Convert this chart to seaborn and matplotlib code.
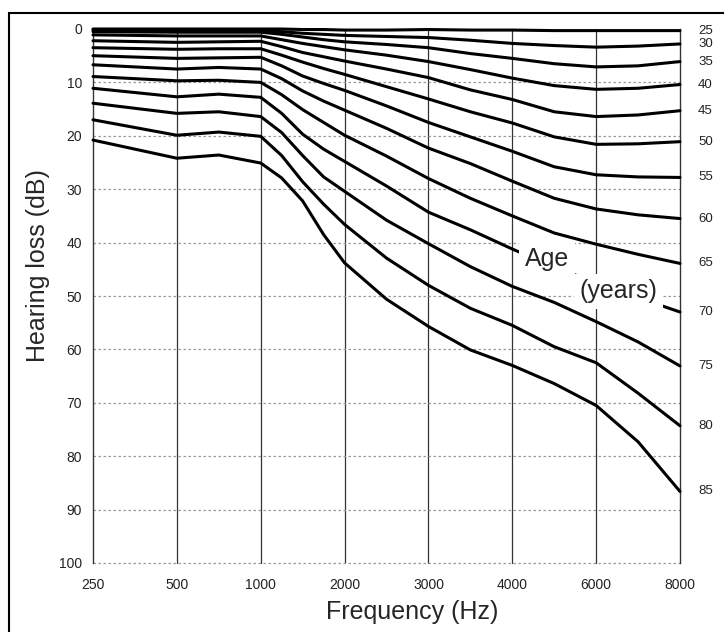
import pandas as pd
import seaborn as sns
import matplotlib.pyplot as plt
from matplotlib.patches import Rectangle

# audiogram frequencies, drawn at equal spacing
freq_labels = ["250", "500", "1000", "2000", "3000", "4000", "6000", "8000"]
freq_pos = list(range(len(freq_labels)))

# positions where the curves were read (fractions = between two frequencies)
read_pos = [0, 1, 1.5, 2, 2.25, 2.5, 2.75, 3, 3.5, 4, 4.5, 5, 5.5, 6, 6.5, 7]

ages = [25, 30, 35, 40, 45, 50, 55, 60, 65, 70, 75, 80, 85]

# hearing loss (dB) per age at read_pos
loss_db = [
    [0.0, 0.0, 0.0, 0.0, 0.0, 0.1, 0.1, 0.2, 0.2, 0.1, 0.2, 0.2, 0.3, 0.3, 0.3, 0.3],
    [0.2, 0.3, 0.3, 0.3, 0.5, 0.8, 1.0, 1.2, 1.4, 1.6, 2.1, 2.7, 3.1, 3.4, 3.2, 2.8],
    [0.5, 0.6, 0.6, 0.6, 1.0, 1.5, 2.0, 2.4, 2.9, 3.5, 4.6, 5.5, 6.5, 7.1, 6.9, 6.1],
    [1.1, 1.3, 1.3, 1.3, 2.0, 2.7, 3.3, 3.9, 4.9, 6.1, 7.6, 9.2, 10.6, 11.3, 11.1, 10.4],
    [2.2, 2.5, 2.4, 2.3, 3.3, 4.4, 5.2, 6.0, 7.5, 9.1, 11.4, 13.2, 15.5, 16.4, 16.1, 15.3],
    [3.5, 3.8, 3.7, 3.7, 4.9, 6.2, 7.4, 8.5, 10.8, 13.1, 15.5, 17.6, 20.2, 21.6, 21.5, 21.1],
    [5.0, 5.5, 5.4, 5.3, 6.9, 8.8, 10.2, 11.5, 14.4, 17.5, 20.2, 22.9, 25.8, 27.3, 27.7, 27.8],
    [6.7, 7.5, 7.2, 7.5, 9.3, 11.6, 13.5, 15.2, 18.6, 22.3, 25.2, 28.5, 31.7, 33.7, 34.8, 35.5],
    [8.9, 9.7, 9.6, 10.0, 12.3, 15.1, 17.5, 19.9, 23.8, 28.0, 31.7, 35.0, 38.2, 40.3, 42.2, 43.9],
    [11.1, 12.7, 12.2, 12.8, 15.8, 19.7, 22.5, 24.8, 29.4, 34.3, 37.6, 41.2, 44.6, 47.5, 50.3, 53.0],
    [13.9, 15.8, 15.5, 16.4, 19.4, 23.7, 27.7, 30.4, 35.8, 40.2, 44.5, 48.2, 51.2, 54.8, 58.6, 63.1],
    [17.0, 19.9, 19.3, 20.1, 23.7, 28.6, 32.8, 36.6, 42.9, 48.0, 52.3, 55.5, 59.5, 62.5, 68.2, 74.3],
    [20.8, 24.2, 23.6, 25.1, 27.9, 32.2, 38.5, 43.8, 50.6, 55.7, 60.1, 63.0, 66.4, 70.5, 77.3, 86.6],
]

db_ticks = list(range(0, 101, 10))

rows = []
for age, curve in zip(ages, loss_db):
    for p, v in zip(read_pos, curve):
        rows.append((age, p, v))
df = pd.DataFrame(rows, columns=["age", "pos", "loss"])

sns.set_style("white")
plt.rcParams["font.family"] = ["Liberation Sans", "DejaVu Sans"]

fig = plt.figure(figsize=(7.24, 6.32), dpi=100)
ax = fig.add_axes([93 / 724, 1 - 563 / 632, 587 / 724, 534 / 632])

# grid: solid verticals, dotted horizontals
for p in freq_pos[1:-1]:
    ax.axvline(p, color="#333333", lw=0.9, zorder=1)
for d in db_ticks[1:]:
    ax.axhline(d, color="#999999", lw=0.9, ls=(0, (2, 2)), zorder=1, clip_on=False)

sns.lineplot(data=df, x="pos", y="loss", units="age", estimator=None,
             color="black", lw=2.2, sort=False, ax=ax, zorder=3)
for ln in ax.lines:
    ln.set_clip_on(False)
    ln.set_solid_joinstyle("round")

ax.set_xlim(0, 7)
ax.set_ylim(100, 0)
ax.set_xticks(freq_pos, freq_labels)
ax.set_yticks(db_ticks)
ax.tick_params(axis="both", length=0, labelsize=10, labelcolor="#222222")
ax.tick_params(axis="x", pad=11)
ax.tick_params(axis="y", pad=8)

for side in ["top", "bottom"]:
    ax.spines[side].set_visible(False)
for side in ["left", "right"]:
    ax.spines[side].set_color("#333333")
    ax.spines[side].set_linewidth(1.0)

ax.set_xlabel("")
ax.set_ylabel("")
fig.text(412 / 724, 1 - 612 / 632, "Frequency (Hz)", fontsize=18,
         ha="center", va="center")
fig.text(38.5 / 724, 1 - 266 / 632, "Hearing loss (dB)", fontsize=18,
         ha="center", va="center", rotation=90)

# age labels at the right end of each curve
for age, curve in zip(ages, loss_db):
    ax.annotate(str(age), xy=(read_pos[-1], curve[-1]), xytext=(18, 0),
                textcoords="offset pixels", va="center", ha="left",
                fontsize=9.5, color="#222222", annotation_clip=False)

box = dict(fc="white", ec="none", pad=4)
ax.text(5.15, 43.1, "Age", fontsize=18, ha="left", va="center", bbox=box, zorder=5)
ax.text(5.80, 49.1, "(years)", fontsize=18, ha="left", va="center", bbox=box, zorder=5)

fig.patches.append(Rectangle((9 / 724, -0.05), 1.1, (632 - 13) / 632 + 0.05,
                             transform=fig.transFigure, fill=False,
                             ec="black", lw=1.5))

fig.savefig("out.png", dpi=100)
